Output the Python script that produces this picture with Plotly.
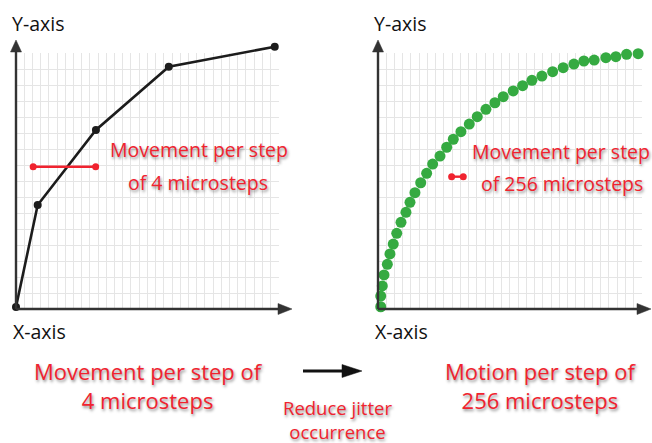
import plotly.graph_objects as go

W, H = 652, 443

# ---- data (grid units: 32 columns x 16 rows per panel) ----
coarse_x = [0.0, 2.64, 9.73, 18.6, 31.5]
coarse_y = [0.12, 6.5, 11.19, 15.14, 16.39]

coarse_step_x = [2.09, 9.70]
coarse_step_y = [8.89, 8.89]

fine_x = [0.33, 0.33, 0.52, 0.73, 1.13, 1.45, 1.85, 2.27, 2.79, 3.39,
          3.88, 4.48, 5.18, 5.90, 6.63, 7.52, 8.33, 9.13, 10.06, 11.07,
          12.04, 13.09, 14.18, 15.19, 16.40, 17.54, 18.67, 19.88, 21.18, 22.46,
          23.76, 24.97, 26.22, 27.64, 28.85, 30.15, 31.55]
fine_y = [0.14, 0.81, 1.44, 2.13, 2.79, 3.44, 4.06, 4.73, 5.42, 6.04,
          6.67, 7.27, 7.89, 8.48, 9.06, 9.56, 10.11, 10.61, 11.08, 11.56,
          12.02, 12.48, 12.89, 13.27, 13.63, 13.96, 14.29, 14.56, 14.83, 15.08,
          15.31, 15.50, 15.56, 15.71, 15.77, 15.92, 15.96]

fine_step_x = [8.93, 10.34]
fine_step_y = [8.27, 8.27]

axis_titles = ["Y-axis", "X-axis"]
left_label = ["Movement per step", "of 4 microsteps"]
right_label = ["Movement per step", "of 256 microsteps"]
bottom_left = "Movement per step of<br>4 microsteps"
bottom_right = "Motion per step of<br>256 microsteps"
bottom_mid = "Reduce jitter<br>occurrence"

RED = "#f0232f"
GREEN = "#35aa41"
AXIS = "#333333"
GRID = "#e5e5e5"

GRID_ROWS, GRID_COLS = 16, 32
PX_PER_ROW = 16.0          # grid cell height in pixels
DATA_TOP_ROWS = 17.5       # data axes reach a little above the grid


def px(x):
    return x / W


def py(y):
    return 1 - y / H


fig = go.Figure()

# empty traces so the grid-only subplots are drawn (underneath the data)
fig.add_trace(go.Scatter(x=[], y=[], xaxis="x", yaxis="y", hoverinfo="skip"))
fig.add_trace(go.Scatter(x=[], y=[], xaxis="x2", yaxis="y2", hoverinfo="skip"))

# data live on their own axes (taller than the grid so nothing is clipped)
fig.add_trace(go.Scatter(x=coarse_x, y=coarse_y, mode="lines+markers",
                         line=dict(color="#1c1c1c", width=2.6),
                         marker=dict(size=8, color="#1c1c1c"),
                         cliponaxis=False, xaxis="x3", yaxis="y3"))
fig.add_trace(go.Scatter(x=coarse_step_x, y=coarse_step_y, mode="lines+markers",
                         line=dict(color=RED, width=2.4),
                         marker=dict(size=7, color=RED),
                         cliponaxis=False, xaxis="x3", yaxis="y3"))
fig.add_trace(go.Scatter(x=fine_x, y=fine_y, mode="markers",
                         marker=dict(size=11, color=GREEN),
                         cliponaxis=False, xaxis="x4", yaxis="y4"))
fig.add_trace(go.Scatter(x=fine_step_x, y=fine_step_y, mode="lines+markers",
                         line=dict(color=RED, width=2.4),
                         marker=dict(size=7, color=RED),
                         cliponaxis=False, xaxis="x4", yaxis="y4"))

hidden = dict(zeroline=False, showline=False, showticklabels=False, ticks="",
              showgrid=False, fixedrange=True)
grid_x = dict(range=[0, GRID_COLS + 0.02], dtick=1, showgrid=True, gridcolor=GRID,
              gridwidth=1, zeroline=False, showline=False, showticklabels=False,
              ticks="", fixedrange=True)
grid_y = dict(range=[0, GRID_ROWS + 0.02], dtick=1, showgrid=True, gridcolor=GRID,
              gridwidth=1, zeroline=False, showline=False, showticklabels=False,
              ticks="", fixedrange=True)

y0_px = 309
grid_dom = [py(y0_px), py(y0_px - GRID_ROWS * PX_PER_ROW)]
data_dom = [py(y0_px), py(y0_px - DATA_TOP_ROWS * PX_PER_ROW)]
left_dom = [px(16), px(279)]
right_dom = [px(378), px(642)]

fig.update_layout(
    width=W, height=H, margin=dict(l=0, r=0, t=0, b=0),
    paper_bgcolor="white", plot_bgcolor="rgba(0,0,0,0)", showlegend=False,
    xaxis=dict(domain=left_dom, anchor="y", **grid_x),
    yaxis=dict(domain=grid_dom, anchor="x", **grid_y),
    xaxis2=dict(domain=right_dom, anchor="y2", **grid_x),
    yaxis2=dict(domain=grid_dom, anchor="x2", **grid_y),
    xaxis3=dict(domain=left_dom, anchor="y3", range=[0, GRID_COLS + 0.02], **hidden),
    yaxis3=dict(domain=data_dom, anchor="x3", range=[0, DATA_TOP_ROWS], **hidden),
    xaxis4=dict(domain=right_dom, anchor="y4", range=[0, GRID_COLS + 0.02], **hidden),
    yaxis4=dict(domain=data_dom, anchor="x4", range=[0, DATA_TOP_ROWS], **hidden),
)

shapes = []


def arrow(x0, y0, x1, y1, width, head_len, head_w, color):
    """Straight arrow from (x0, y0) to tip (x1, y1) in pixel space."""
    dx, dy = x1 - x0, y1 - y0
    n = (dx * dx + dy * dy) ** 0.5
    ux, uy = dx / n, dy / n
    bx, by = x1 - ux * head_len, y1 - uy * head_len
    shapes.append(dict(type="line", xref="paper", yref="paper",
                       x0=px(x0), y0=py(y0), x1=px(bx + ux), y1=py(by + uy),
                       line=dict(color=color, width=width)))
    nx, ny = -uy, ux
    p1 = (bx + nx * head_w / 2, by + ny * head_w / 2)
    p2 = (bx - nx * head_w / 2, by - ny * head_w / 2)
    path = "M{},{} L{},{} L{},{} Z".format(px(x1), py(y1), px(p1[0]), py(p1[1]),
                                         px(p2[0]), py(p2[1]))
    shapes.append(dict(type="path", xref="paper", yref="paper", path=path,
                       fillcolor=color, line=dict(color=color, width=0.5)))


# axes with arrowheads
for ox, tipx in [(16, 292), (378, 651)]:
    arrow(ox, 309, ox, 40, 2.4, 12, 11, AXIS)
    arrow(ox, 309, tipx, 309, 2.4, 14, 11, AXIS)

# transition arrow between the two captions
arrow(303, 371, 362, 371, 3, 20, 13, "#111111")

fig.update_layout(shapes=shapes)

shadow = "1px 2px 3px rgba(0,0,0,0.45)"
FONT = "Open Sans"
ann = []


def label(x, y, text, size, color, sh=True, anchor="center"):
    f = dict(family=FONT, size=size, color=color)
    if sh:
        f["shadow"] = shadow
    ann.append(dict(x=px(x), y=py(y), xref="paper", yref="paper", text=text,
                    showarrow=False, xanchor=anchor, yanchor="middle",
                    font=f, align="center"))


for ox in (16, 378):
    label(ox - 6, 23, axis_titles[0], 19.5, "#111111", sh=False, anchor="left")
    label(ox - 5, 331, axis_titles[1], 19.5, "#111111", sh=False, anchor="left")

label(198.5, 149, left_label[0], 19.5, RED)
label(197.5, 182, left_label[1], 19.5, RED)
label(561, 151, right_label[0], 19.5, RED)
label(562, 183, right_label[1], 19.5, RED)
label(148, 385, bottom_left, 22, RED)
label(540, 385, bottom_right, 22, RED)
label(337, 419, bottom_mid, 18.5, RED)

fig.update_layout(annotations=ann)

fig.write_html("out.html")
